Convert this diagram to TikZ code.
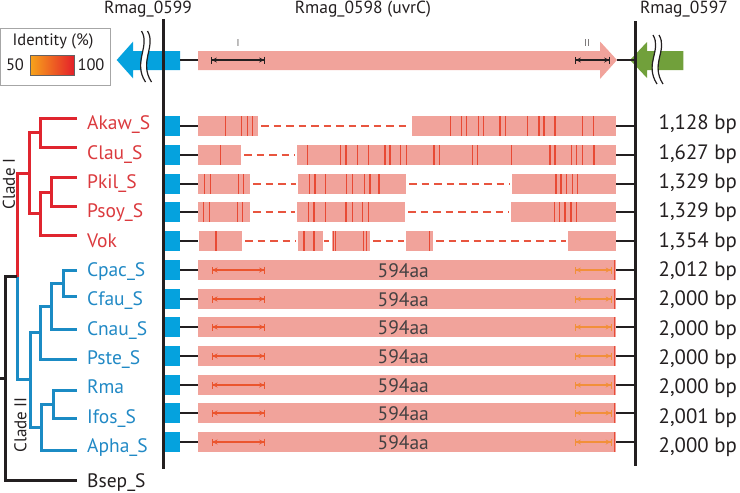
\documentclass[tikz,border=0pt]{standalone}
\usepackage{fontspec}
\setmainfont{PT Sans}
\usetikzlibrary{arrows.meta}
\definecolor{barpink}{HTML}{F1A39B}
\definecolor{tickred}{HTML}{E84A35}
\definecolor{dashred}{HTML}{E8553F}
\definecolor{geneblue}{HTML}{05A2DE}
\definecolor{genegreen}{HTML}{71A03B}
\definecolor{treered}{HTML}{E0252F}
\definecolor{treeblue}{HTML}{1B8BC4}
\definecolor{labred}{HTML}{DB3A3E}
\definecolor{labblue}{HTML}{2189C5}
\definecolor{arrI}{HTML}{EB552E}
\definecolor{arrII}{HTML}{F2903A}
\definecolor{txt}{HTML}{231F20}
\definecolor{gradL}{HTML}{F7A21B}
\definecolor{gradR}{HTML}{E4202A}
\newcommand\mysegs[2]{\foreach \a/\b in {#2} {\fill[barpink] (\a,#1-9.7) rectangle (\b,#1+9.7);}}
\newcommand\myticks[2]{\foreach \t in {#2} {\draw[tickline] (\t,#1-9.7) -- (\t,#1+9.7);}}
\newcommand\mygaps[2]{\foreach \a/\b in {#2} {\draw[dashline] (\a+3,#1) -- (\b-2,#1);}}
\begin{document}
\begin{tikzpicture}[x=1pt,y=-1pt,
  tickline/.style={tickred,line width=1.5pt},
  dashline/.style={dashred,line width=2pt,dash pattern=on 7.5pt off 5pt},
  treeR/.style={treered,line width=3pt},
  treeB/.style={treeblue,line width=3pt},
  treeK/.style={txt,line width=3pt},
  axisline/.style={txt,line width=2.4pt},
  linker/.style={txt,line width=1.2pt},
  namelab/.style={anchor=base west,inner sep=0pt,font=\fontsize{19.5}{22}\selectfont},
  bplab/.style={anchor=base west,inner sep=0pt,text=txt,font=\fontsize{20.8}{22}\selectfont},
  aalab/.style={anchor=base,inner sep=0pt,text=txt!85,font=\fontsize{19.5}{22}\selectfont},
  genelab/.style={anchor=base,inner sep=0pt,text=txt,font=\fontsize{17.5}{20}\selectfont},
  domI/.style={line width=1.3pt,{Bar[width=7pt,line width=0.8pt]Stealth[length=5pt,width=5pt]}-{Stealth[length=5pt,width=5pt]Bar[width=7pt,line width=0.8pt]}},
  wave/.style={txt,line width=1.2pt},
]
\useasboundingbox (0,0) rectangle (740,493);

% ---------- top gene map ----------
\fill[geneblue] (116.7,60) -- (133,41.7) -- (133,51) -- (180,51) -- (180,70) -- (133,70) -- (133,78.3) -- cycle;
\fill[barpink] (198,51) -- (600,51) -- (600,41.5) -- (617,60) -- (600,79) -- (600,70) -- (198,70) -- cycle;
\fill[genegreen] (630,60) -- (647,42) -- (647,51) -- (683.3,51) -- (683.3,70) -- (647,70) -- (647,78) -- cycle;
\coordinate (bl) at (180,60); \coordinate (pl) at (198,60);
\coordinate (pr) at (617,60); \coordinate (gr) at (635,60);
\draw[linker] (bl) -- (pl);
\draw[linker] (pr) -- (gr);
% wavy breaks
\foreach \x/\ya/\yb in {141.5/31/82, 653/35/84} {
  \draw[white,line width=5pt] (\x+3,\ya) .. controls (\x+12,\ya+15) and (\x-6,\yb-20) .. (\x+7,\yb);
  \draw[wave] (\x,\ya) .. controls (\x+9,\ya+15) and (\x-9,\yb-20) .. (\x+4,\yb);
  \draw[wave] (\x+6,\ya) .. controls (\x+15,\ya+15) and (\x-3,\yb-20) .. (\x+10,\yb);
}
\coordinate (tI1) at (211,60); \coordinate (tI2) at (265,60);
\coordinate (tII1) at (575,60); \coordinate (tII2) at (610,60);
\draw[domI,txt] (tI1) -- (tI2);
\draw[domI,txt] (tII1) -- (tII2);
\node[text=txt!70,font=\fontsize{10}{12}\selectfont] (lI) at (238,43) {I};
\node[text=txt!70,font=\fontsize{10}{12}\selectfont] (lII) at (587,43) {II};
\node[genelab] (g99) at (148,13.5) {Rmag\_0599};
\node[genelab] (g98) at (363,13.5) {Rmag\_0598 (uvrC)};
\node[genelab] (g97) at (684,13.5) {Rmag\_0597};

% legend
\draw[gray!70,line width=0.8pt] (0.5,28) rectangle (110,85);
\node[text=txt,font=\fontsize{16.5}{18}\selectfont] (leg) at (53,41) {Identity (\%)};
\node[text=txt,font=\fontsize{16.5}{18}\selectfont] (l50) at (15,64.5) {50};
\shade[left color=gradL,right color=gradR] (30.7,55) rectangle (74,75);
\draw[txt!70,line width=0.5pt] (30.7,55) rectangle (74,75);
\node[text=txt,font=\fontsize{16.5}{18}\selectfont] (l100) at (91,64.5) {100};

% ---------- gene rows ----------
\foreach \ry in {126,155,184,212,241,270,299,327,356,385,413,442} {
  \fill[geneblue] (165,\ry-10) rectangle (180,\ry+10);
  \draw[linker] (180,\ry) -- (198,\ry);
  \draw[linker] (615,\ry) -- (635,\ry);
}
% Akaw
\mysegs{126}{198/258,412/615.5}
\mygaps{126}{258/412}
\myticks{126}{225.7,241.7,247.3,252.7,450.7,461.7,466.7,478.3,483.3,500,505.7,527.7,539,544,555,582.7,593.3}
% Clau
\mysegs{155}{198/241,297/615.5}
\mygaps{155}{241/297}
\myticks{155}{220.7,307.3,340.7,346,357.7,368.3,385,390,400.7,406.7,434,439.3,472.7,477.7,511.7,550,555,571.7,576.7,582.7,594}
% Pkil
\mysegs{184}{198/250,298/406,512/615.5}
\mygaps{184}{250/298,406/512}
\myticks{184}{204.3,210.7,238.3,243.3,309.3,315,325.7,346.7,352.7,364.3,370,379,556,561,566.7,572.3,577.7}
% Psoy
\mysegs{212}{198/250,297/405,511/615.5}
\mygaps{212}{250/297,405/511}
\myticks{212}{203.3,209.3,237.3,242.3,308.3,314,325.7,346,352.3,362.7,368.3,554.3,559.3,565,571,576.7}
% Vok
\mysegs{241}{199/242,298/323,332/370,406/433,568/615.5}
\mygaps{241}{242/298,370/406,433/568}
\draw[dashline] (324,241) -- (329,241);
\myticks{241}{216,304,314,333.3,335.7,363.3,366.7,429.3}
% full-length rows
\foreach \ry in {270,299,327,356,385,413,442} {
  \fill[barpink] (198,\ry-9.7) rectangle (615.5,\ry+9.7);
  \draw[tickred,line width=1pt] (614.8,\ry-9.7) -- (614.8,\ry+9.7);
  \draw[domI,arrI] (211.7,\ry) -- (265,\ry);
  \draw[domI,arrII] (575,\ry) -- (611.5,\ry);
  \node[aalab] at (403.3,\ry+7.8) {594aa};
}

% axes
\coordinate (axL1) at (163.5,19); \coordinate (axL2) at (163.5,469);
\coordinate (axR1) at (635.5,21); \coordinate (axR2) at (635.5,466);
\draw[axisline] (axL1) -- (axL2);
\draw[axisline] (axR1) -- (axR2);

% ---------- labels ----------
\foreach \i/\n/\c/\bp in {0/Akaw\_S/labred/1{,}128, 1/Clau\_S/labred/1{,}627, 2/Pkil\_S/labred/1{,}329, 3/Psoy\_S/labred/1{,}329, 4/Vok/labred/1{,}354,
  5/Cpac\_S/labblue/2{,}012, 6/Cfau\_S/labblue/2{,}000, 7/Cnau\_S/labblue/2{,}000, 8/Pste\_S/labblue/2{,}000, 9/Rma/labblue/2{,}000, 10/Ifos\_S/labblue/2{,}001, 11/Apha\_S/labblue/2{,}000} {
  \pgfmathsetmacro\ly{123+29.35*\i}
  \node[namelab,text=\c] (name\i) at (87,\ly+6.8) {\n};
  \node[bplab] (bp\i) at (658.5,\ly+6.8) {\bp\ bp};
}
\node[namelab,text=txt] (name12) at (87,487.5) {Bsep\_S};

% ---------- tree ----------
\coordinate (lAkaw) at (77,118.3);
\coordinate (lClau) at (77,147.3);
\coordinate (lPkil) at (77,177.3);
\coordinate (lPsoy) at (77,206.7);
\coordinate (lVok) at (77,235.7);
\coordinate (lCpac) at (77,270.7);
\coordinate (lCfau) at (77,296.7);
\coordinate (lCnau) at (77,329);
\coordinate (lPste) at (77,359);
\coordinate (lRma) at (77,390);
\coordinate (lIfos) at (77,418.3);
\coordinate (lApha) at (77,450);
\coordinate (lBsep) at (77,480);
\coordinate (nAC) at (40,132.8);
\coordinate (nPP) at (51.7,192);
\coordinate (nPPV) at (40.7,213.85);
\coordinate (nCI) at (29.3,173.3);
\coordinate (nCC) at (63.3,283.7);
\coordinate (nCCC) at (51.7,306.35);
\coordinate (nCCCP) at (40,332.7);
\coordinate (nRI) at (53.3,404.15);
\coordinate (nRIA) at (41.7,427.1);
\coordinate (nCII) at (30.7,379.9);
\coordinate (nIG) at (17.3,276.6);
\coordinate (nRoot) at (5,378.3);
\coordinate (nStub) at (0,378.3);
\draw[treeR] (lAkaw) -| (nAC) |- (lClau);
\draw[treeR] (lPkil) -| (nPP) |- (lPsoy);
\draw[treeR] (nPP) -| (nPPV) |- (lVok);
\draw[treeR] (nAC) -| (nCI) |- (nPPV);
\draw[treeR] (nCI) -| (nIG);
\draw[treeB] (lCpac) -| (nCC) |- (lCfau);
\draw[treeB] (nCC) -| (nCCC) |- (lCnau);
\draw[treeB] (nCCC) -| (nCCCP) |- (lPste);
\draw[treeB] (lRma) -| (nRI) |- (lIfos);
\draw[treeB] (nRI) -| (nRIA) |- (lApha);
\draw[treeB] (nCCCP) -| (nCII) |- (nRIA);
\draw[treeB] (nCII) -| (nIG);
\draw[treeK] (nIG) -| (nRoot) |- (lBsep);
\draw[treeK] (nRoot) -- (nStub);
\node[rotate=90,text=txt,font=\fontsize{17}{19}\selectfont] (cladeI) at (9,184) {Clade I};
\node[rotate=90,text=txt,font=\fontsize{17}{19}\selectfont] (cladeII) at (20.5,425) {Clade II};
\end{tikzpicture}
\end{document}
